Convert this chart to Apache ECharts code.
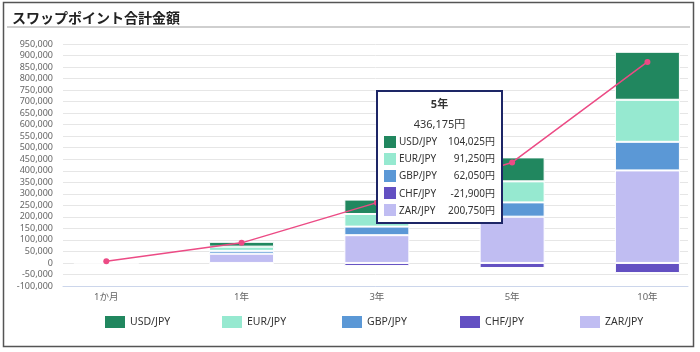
<!DOCTYPE html>
<html>
<head>
<meta charset="utf-8">
<script src="https://cdn.jsdelivr.net/npm/echarts@6/dist/echarts.min.js"></script>
<style>
  html, body { margin: 0; padding: 0; background: #fff; }
  #chart { width: 700px; height: 352px; }
</style>
</head>
<body>
<div id="chart"></div>
<script>
// periods on the x axis
const periods = ['1か月', '1年', '3年', '5年', '10年'];
const pairs = ['USD/JPY', 'EUR/JPY', 'GBP/JPY', 'CHF/JPY', 'ZAR/JPY'];

// swap point amounts (円) per currency pair
const usdJpy = [1734, 20805, 62415, 104025, 208050];
const eurJpy = [1521, 18250, 54750, 91250, 182500];
const gbpJpy = [1034, 12410, 37230, 62050, 124100];
const chfJpy = [-365, -4380, -13140, -21900, -43800];
const zarJpy = [3346, 40150, 120450, 200750, 401500];
const totals = [7270, 87235, 261705, 436175, 872350];

const pairValues = [usdJpy, eurJpy, gbpJpy, chfJpy, zarJpy];
const pairColors = ['#21875f', '#96e9d0', '#5b98d6', '#6350c2', '#c0bdf2'];
const lineColor = '#ec4b85';
const legendLefts = [105, 222, 342, 460, 580];

const FONT = "'Noto Sans', 'Noto Sans CJK JP', sans-serif";
const fmt = (v) => v.toLocaleString('en-US');

const chart = echarts.init(document.getElementById('chart'));

// rows are [value, periodIndex] so the value column is the one that gets stacked
const toRows = (arr) => arr.map((v, k) => [v, k]);

// stacking goes bottom -> top: ZAR, GBP, EUR, USD (CHF is negative, below 0)
const stackOrder = [4, 2, 1, 0, 3];
const barSeries = stackOrder.map((i) => ({
  name: pairs[i],
  type: 'bar',
  stack: 'swap',
  barWidth: 65,
  encode: { x: 1, y: 0 },
  itemStyle: { color: pairColors[i], borderColor: '#fff', borderWidth: 1 },
  data: toRows(pairValues[i]),
  tooltip: { show: false }
}));

const tipHtml = (idx) => {
  let rows = '';
  pairs.forEach((p, i) => {
    rows += '<div style="display:flex;align-items:center;height:17.2px;">' +
      '<span style="display:inline-block;width:12px;height:12px;background:' + pairColors[i] + ';margin-right:3px;"></span>' +
      '<span style="flex:1;">' + p + '</span>' +
      '<span>' + fmt(pairValues[i][idx]) + '円</span></div>';
  });
  return '<div style="font-family:' + FONT.replace(/'/g, '&quot;') + ';color:#333;width:111px;">' +
    '<div style="text-align:center;font-weight:bold;font-size:11px;line-height:16px;">' + periods[idx] + '</div>' +
    '<div style="text-align:center;font-size:11px;line-height:16px;margin-top:4px;margin-bottom:1px;">' + fmt(totals[idx]) + '円</div>' +
    '<div style="font-size:10px;">' + rows + '</div></div>';
};

// one legend per pair so each item sits where the reference has it
const legends = pairs.map((p, i) => ({
  data: [p],
  left: legendLefts[i], top: 316, padding: 0,
  icon: 'rect', itemWidth: 20, itemHeight: 12,
  itemStyle: { borderWidth: 0 },
  textStyle: { fontSize: 10.5, color: '#333', fontFamily: FONT },
  selectedMode: false
}));

chart.setOption({
  animation: false,
  textStyle: { fontFamily: FONT },
  title: {
    text: 'スワップポイント合計金額',
    left: 7, top: 7,
    textStyle: { fontSize: 14, fontWeight: 'bold', color: '#222', fontFamily: FONT }
  },
  graphic: [
    { type: 'rect', shape: { x: 3.5, y: 2.5, width: 690, height: 344 },
      style: { fill: 'none', stroke: '#555', lineWidth: 1.5 }, silent: true },
    { type: 'line', shape: { x1: 7, y1: 27, x2: 690, y2: 27 },
      style: { stroke: '#cfcfcf', lineWidth: 2 }, silent: true }
  ],
  grid: { left: 63, right: 12, top: 44, bottom: 66 },
  legend: legends,
  tooltip: {
    trigger: 'item',
    triggerOn: 'none',
    alwaysShowContent: true,
    position: [376, 90],
    backgroundColor: '#fff',
    borderColor: '#1d2666',
    borderWidth: 2,
    padding: [4, 6, 3, 6],
    extraCssText: 'box-shadow:none;border-radius:0;',
    formatter: (p) => tipHtml(p.dataIndex)
  },
  // value axis so the period centres can sit where the reference puts them
  xAxis: {
    type: 'value',
    min: -0.32, max: 4.3,
    splitLine: { show: false },
    axisTick: { show: false },
    axisLine: { onZero: false, lineStyle: { color: '#ccd6eb' } },
    axisLabel: {
      color: '#666', fontSize: 9.5, margin: 7,
      showMinLabel: false, showMaxLabel: false,
      formatter: (v) => (Number.isInteger(v) && periods[v] !== undefined) ? periods[v] : ''
    }
  },
  yAxis: {
    type: 'value',
    min: -100000, max: 950000, interval: 50000,
    axisLine: { show: false },
    axisTick: { show: false },
    splitLine: { lineStyle: { color: '#e6e6e6' } },
    axisLabel: { color: '#666', fontSize: 9, margin: 10, formatter: (v) => fmt(v) }
  },
  series: barSeries.concat([{
    name: '合計',
    type: 'line',
    z: 5,
    symbol: 'circle',
    symbolSize: 6,
    encode: { x: 1, y: 0 },
    lineStyle: { color: lineColor, width: 1.5 },
    itemStyle: { color: lineColor },
    data: toRows(totals)
  }])
});

chart.dispatchAction({ type: 'showTip', seriesIndex: barSeries.length, dataIndex: 3 });
</script>
</body>
</html>
